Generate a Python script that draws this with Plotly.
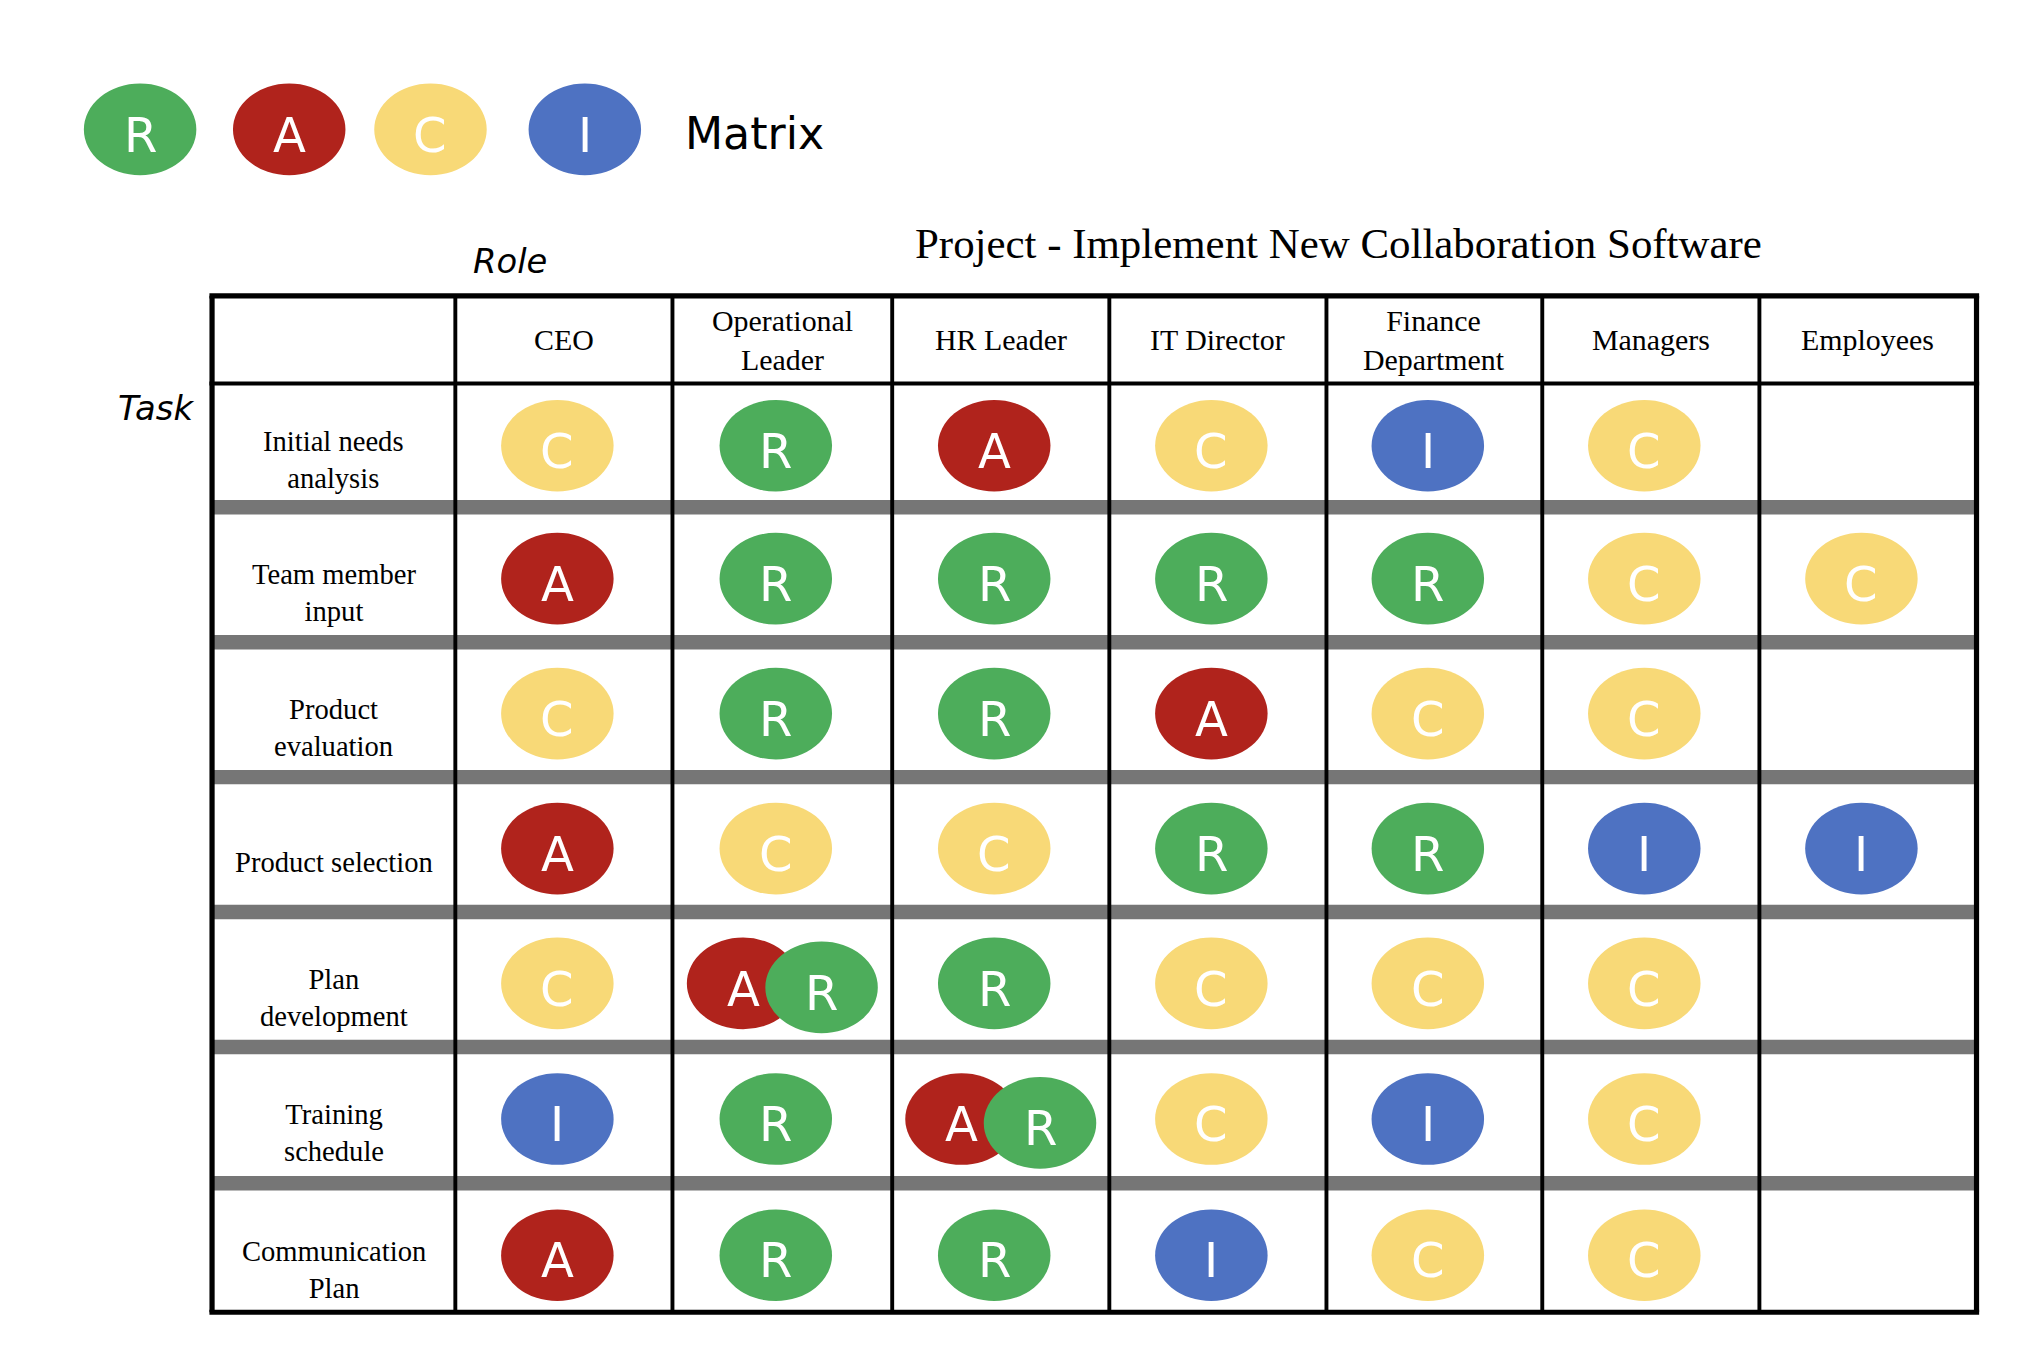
import plotly.graph_objects as go

roles = ["CEO", "Operational<br>Leader", "HR Leader", "IT Director",
         "Finance<br>Department", "Managers", "Employees"]
tasks = ["Initial needs<br>analysis", "Team member<br>input", "Product<br>evaluation",
         "<br>Product selection", "Plan<br>development", "Training<br>schedule",
         "Communication<br>Plan"]
raci = [
    ["C", "R", "A", "C", "I", "C", ""],
    ["A", "R", "R", "R", "R", "C", "C"],
    ["C", "R", "R", "A", "C", "C", ""],
    ["A", "C", "C", "R", "R", "I", "I"],
    ["C", "AR", "R", "C", "C", "C", ""],
    ["I", "R", "AR", "C", "I", "C", ""],
    ["A", "R", "R", "I", "C", "C", ""],
]
legend_letters = ["R", "A", "C", "I"]

colors = {"R": "#4DAD5B", "A": "#B0231C", "C": "#F8D977", "I": "#4E72C2"}
S = 1.3  # display px -> page px

col_x = [150, 336, 502, 670, 836, 1002, 1167, 1333, 1499]
row_y = [214, 281, 381, 484, 587, 690, 793, 897, 990]

fig = go.Figure()
shapes, ann = [], []

def bubble(cx, cy, letter):
    shapes.append(dict(type="circle", xref="x", yref="y", x0=cx - 43, x1=cx + 43,
                       y0=cy - 35, y1=cy + 35, fillcolor=colors[letter], line_width=0))
    ann.append(dict(x=cx, y=cy + 4, text=letter, showarrow=False,
                    font=dict(family="DejaVu Sans", size=37 * S, color="white")))

# legend
for lx, l in zip([95, 209, 317, 435], legend_letters):
    bubble(lx, 87, l)
ann.append(dict(x=510, y=90, text="Matrix", showarrow=False, xanchor="left",
                font=dict(family="DejaVu Sans", size=34 * S, color="black")))
ann.append(dict(x=1011, y=174, text="Project - Implement New Collaboration Software",
                showarrow=False, font=dict(family="Liberation Serif", size=33 * S, color="black")))
ann.append(dict(x=378, y=188, text="<i>Role</i>", showarrow=False,
                font=dict(family="DejaVu Sans", size=26 * S, color="black")))
ann.append(dict(x=107, y=300, text="<i>Task</i>", showarrow=False,
                font=dict(family="DejaVu Sans", size=26 * S, color="black")))

# gray bands
for r in range(1, 7):
    y = row_y[r + 1]
    shapes.append(dict(type="rect", xref="x", yref="y", x0=col_x[0], x1=col_x[-1],
                       y0=y - 11, y1=y, fillcolor="#767676", line_width=0, layer="below"))
# grid lines
for i, x in enumerate(col_x):
    w = 4 if i in (0, len(col_x) - 1) else 3
    shapes.append(dict(type="line", xref="x", yref="y", x0=x, x1=x, y0=row_y[0], y1=row_y[-1],
                       line=dict(color="black", width=w * S)))
for y in (row_y[0], row_y[1], row_y[-1]):
    shapes.append(dict(type="line", xref="x", yref="y", x0=col_x[0] - 2, x1=col_x[-1] + 2,
                       y0=y, y1=y, line=dict(color="black", width=(4 if y != row_y[1] else 3) * S)))

# headers
for c, name in enumerate(roles):
    ann.append(dict(x=(col_x[c + 1] + col_x[c + 2]) / 2, y=(row_y[0] + row_y[1]) / 2,
                    text=name, showarrow=False,
                    font=dict(family="Liberation Serif", size=23 * S, color="black")))

# rows
for r, t in enumerate(tasks):
    top, bot = row_y[r + 1], row_y[r + 2] - (11 if r < 6 else 0)
    ann.append(dict(x=(col_x[0] + col_x[1]) / 2, y=(top + bot) / 2 + 14, text=t,
                    showarrow=False,
                    font=dict(family="Liberation Serif", size=22 * S, color="black")))
    cy = (top + bot) / 2 + 3
    for c, v in enumerate(raci[r]):
        cx = (col_x[c + 1] + col_x[c + 2]) / 2 - 5
        if len(v) == 2:
            bubble(cx - 25, cy, v[0])
            bubble(cx + 35, cy + 3, v[1])
        elif v:
            bubble(cx, cy, v)

fig.update_layout(width=2030, height=1354, margin=dict(l=0, r=0, t=0, b=0),
                  plot_bgcolor="white", paper_bgcolor="white", showlegend=False,
                  xaxis=dict(range=[-6, 1546], visible=False, fixedrange=True),
                  yaxis=dict(range=[1028, -5.7], visible=False, fixedrange=True),
                  shapes=shapes, annotations=ann)
fig.write_html("out.html")
